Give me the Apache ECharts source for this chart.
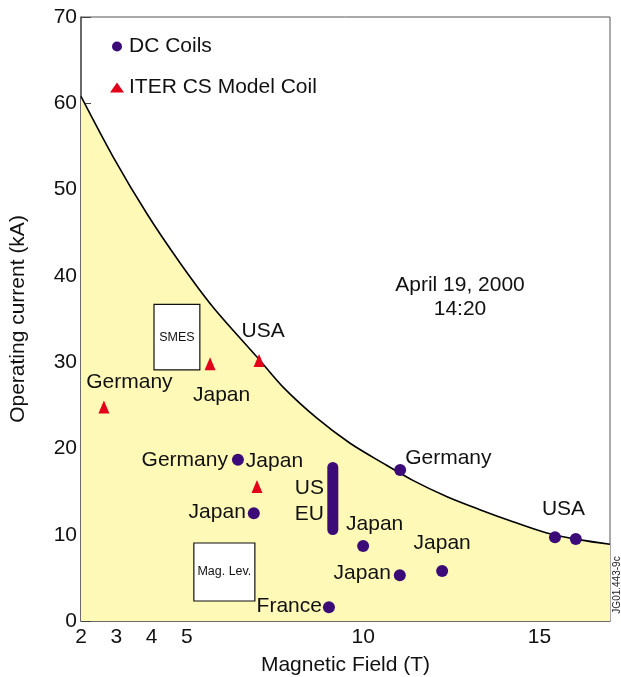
<!DOCTYPE html>
<html>
<head>
<meta charset="utf-8">
<script src="https://cdn.jsdelivr.net/npm/echarts@6/dist/echarts.min.js"></script>
<style>
  html, body { margin: 0; padding: 0; background: #fff; }
  #chart { width: 621px; height: 677px; }
</style>
</head>
<body>
<div id="chart"></div>
<script>
// Operating current vs magnetic field of large superconducting coils.

// Axis ticks
const xTickLabels = [2, 3, 4, 5, 10, 15];
const xTickMarks = [3, 4, 5, 10, 15];

// Upper envelope curve (field T, current kA)
const envelopeB = [2.0, 2.91, 3.87, 4.81, 5.74, 6.99, 7.73, 8.69, 9.63, 10.56, 11.41, 12.38, 13.31, 14.25, 15.21, 16.15, 17.0];
const envelopeI = [60.8, 53.8, 47.2, 41.5, 36.4, 30.6, 27.1, 23.5, 20.6, 18.3, 16.3, 14.4, 12.9, 11.5, 10.2, 9.4, 8.9];

// DC coils
const dcNames = ['Germany', 'Japan', 'Japan', 'Japan', 'France', 'Japan', 'Germany', 'USA', 'USA'];
const dcB = [6.45, 6.9, 10.0, 11.04, 9.03, 12.24, 11.05, 15.44, 16.03];
const dcI = [18.7, 12.5, 8.7, 5.3, 1.6, 5.8, 17.5, 9.7, 9.5];

// US / EU coil range
const usEuB = 9.14;
const usEuI = [10.6, 17.8];
const usEuNames = ['EU', 'US'];

// ITER CS model coil
const iterNames = ['Germany', 'Japan', 'USA', 'Japan'];
const iterB = [2.65, 5.66, 7.05, 6.99];
const iterI = [24.8, 29.8, 30.2, 15.6];

// Application regions: [B from, I top, B to, I bottom]
const regionNames = ['SMES', 'Mag. Lev.'];
const regionB0 = [4.07, 5.2];
const regionB1 = [5.37, 6.93];
const regionI0 = [36.7, 9.04];
const regionI1 = [29.1, 2.32];

const FONT = '"Liberation Sans", Arial, sans-serif';
const FS = 21;
const PURPLE = '#3b0c78';
const RED = '#e2001a';
const FILL = '#fef9b6';

// label placement for each point (offset from point centre)
const dcLabelPlace = [
  { align: 'right', dx: -10, dy: 1 },
  { align: 'right', dx: -8, dy: -1 },
  { align: 'center', dx: 11.5, dy: -22 },
  { align: 'right', dx: -9, dy: -2 },
  { align: 'right', dx: -7, dy: -1 },
  { align: 'center', dx: 0, dy: -28 },
  { align: 'left', dx: 5, dy: -12 },
  { align: 'center', dx: 8.5, dy: -28 },
  null
];
const iterLabelPlace = [
  { align: 'center', dx: 25.5, dy: -25 },
  { align: 'center', dx: 11.5, dy: 31 },
  { align: 'center', dx: 4, dy: -29 },
  { align: 'center', dx: 17.5, dy: -25 }
];
const usEuLabelPlace = [
  { align: 'center', dx: -23.5, dy: -15.5 },
  { align: 'center', dx: -23.5, dy: 20.5 }
];

function pointLabel(place) {
  if (!place) return { show: false };
  return {
    show: true,
    formatter: '{b}',
    position: 'inside',
    align: place.align,
    verticalAlign: 'middle',
    offset: [place.dx, place.dy],
    fontFamily: FONT,
    fontSize: FS,
    color: '#111'
  };
}

const dcData = dcNames.map((n, i) => ({ name: n, value: [dcB[i], dcI[i]], label: pointLabel(dcLabelPlace[i]) }));
const iterData = iterNames.map((n, i) => ({ name: n, value: [iterB[i], iterI[i]], label: pointLabel(iterLabelPlace[i]) }));
const usEuData = usEuNames.map((n, i) => ({ name: n, value: [usEuB, usEuI[i]], label: pointLabel(usEuLabelPlace[i]) }));
const envelopeData = envelopeB.map((b, i) => [b, envelopeI[i]]);
const regionData = regionNames.map((n, i) => ({ name: n, value: [regionB0[i], regionI0[i], regionB1[i], regionI1[i]] }));

const chart = echarts.init(document.getElementById('chart'), null, { renderer: 'canvas' });

chart.setOption({
  animation: false,
  backgroundColor: '#fff',
  textStyle: { fontFamily: FONT },
  grid: {
    left: 81, top: 17, right: 11, bottom: 56,
    outerBoundsMode: 'none', containLabel: false,
    show: true, borderColor: '#555', borderWidth: 1, backgroundColor: 'transparent'
  },
  legend: {
    orient: 'vertical',
    left: 105, top: 31,
    itemWidth: 14, itemHeight: 10,
    itemGap: 20,
    data: ['DC Coils', 'ITER CS Model Coil'],
    textStyle: { fontFamily: FONT, fontSize: FS, color: '#111' }
  },
  xAxis: {
    type: 'value', min: 2, max: 17,
    name: 'Magnetic Field (T)', nameLocation: 'middle', nameGap: 34,
    nameTextStyle: { fontFamily: FONT, fontSize: FS, color: '#111' },
    axisLine: { show: true, lineStyle: { color: '#555', width: 1.5 } },
    axisTick: { show: true, inside: true, length: 12, customValues: xTickMarks, lineStyle: { color: '#444', width: 1 } },
    axisLabel: { customValues: xTickLabels, margin: 6, fontFamily: FONT, fontSize: FS, color: '#111' },
    splitLine: { show: false }
  },
  yAxis: {
    type: 'value', min: 0, max: 70, interval: 10,
    name: 'Operating current (kA)', nameLocation: 'middle', nameGap: 52,
    nameTextStyle: { fontFamily: FONT, fontSize: FS, color: '#111' },
    axisLine: { show: true, lineStyle: { color: '#555', width: 1.5 } },
    axisTick: { show: true, inside: true, length: 10, lineStyle: { color: '#444', width: 1 } },
    axisLabel: { margin: 4, fontFamily: FONT, fontSize: FS, color: '#111' },
    splitLine: { show: false }
  },
  series: [
    {
      name: 'envelope', type: 'line', data: envelopeData,
      smooth: 0.3, symbol: 'none', silent: true, z: 1,
      lineStyle: { color: '#000', width: 1.6 },
      areaStyle: { color: FILL, opacity: 1 }
    },
    {
      name: 'regions', type: 'custom', data: regionData, z: 3, silent: true,
      renderItem: function (params, api) {
        const p0 = api.coord([api.value(0), api.value(1)]);
        const p1 = api.coord([api.value(2), api.value(3)]);
        return {
          type: 'group',
          children: [
            {
              type: 'rect',
              shape: { x: p0[0], y: p0[1], width: p1[0] - p0[0], height: p1[1] - p0[1] },
              style: { fill: '#fff', stroke: '#111', lineWidth: 1.2 }
            },
            {
              type: 'text',
              x: (p0[0] + p1[0]) / 2, y: (p0[1] + p1[1]) / 2,
              style: {
                text: regionNames[params.dataIndex],
                fill: '#111', font: '12.5px ' + FONT,
                align: 'center', verticalAlign: 'middle'
              }
            }
          ]
        };
      }
    },
    {
      name: 'US/EU', type: 'line', data: usEuData, z: 4, silent: true,
      symbol: 'circle', symbolSize: 1,
      itemStyle: { color: PURPLE },
      lineStyle: { color: PURPLE, width: 11, cap: 'round' }
    },
    {
      name: 'DC Coils', type: 'scatter', data: dcData, z: 5,
      symbol: 'circle', symbolSize: 12,
      itemStyle: { color: PURPLE, opacity: 1 }
    },
    {
      name: 'ITER CS Model Coil', type: 'scatter', data: iterData, z: 5,
      symbol: 'triangle', symbolSize: [11, 13],
      itemStyle: { color: RED, opacity: 1 }
    }
  ],
  graphic: [
    {
      type: 'text', x: 398.5, y: 606,
      style: { text: 'Japan', fill: '#111', font: FS + 'px ' + FONT, align: 'center', verticalAlign: 'middle' }
    },
    {
      type: 'text', x: 460, y: 285,
      style: { text: 'April 19, 2000', fill: '#111', font: FS + 'px ' + FONT, align: 'center', verticalAlign: 'middle' }
    },
    {
      type: 'text', x: 460, y: 309,
      style: { text: '14:20', fill: '#111', font: FS + 'px ' + FONT, align: 'center', verticalAlign: 'middle' }
    },
    {
      type: 'text', x: 617, y: 585, rotation: Math.PI / 2,
      style: { text: 'JG01.443-9c', fill: '#222', font: '10px ' + FONT, align: 'center', verticalAlign: 'middle' }
    }
  ]
});
</script>
</body>
</html>
